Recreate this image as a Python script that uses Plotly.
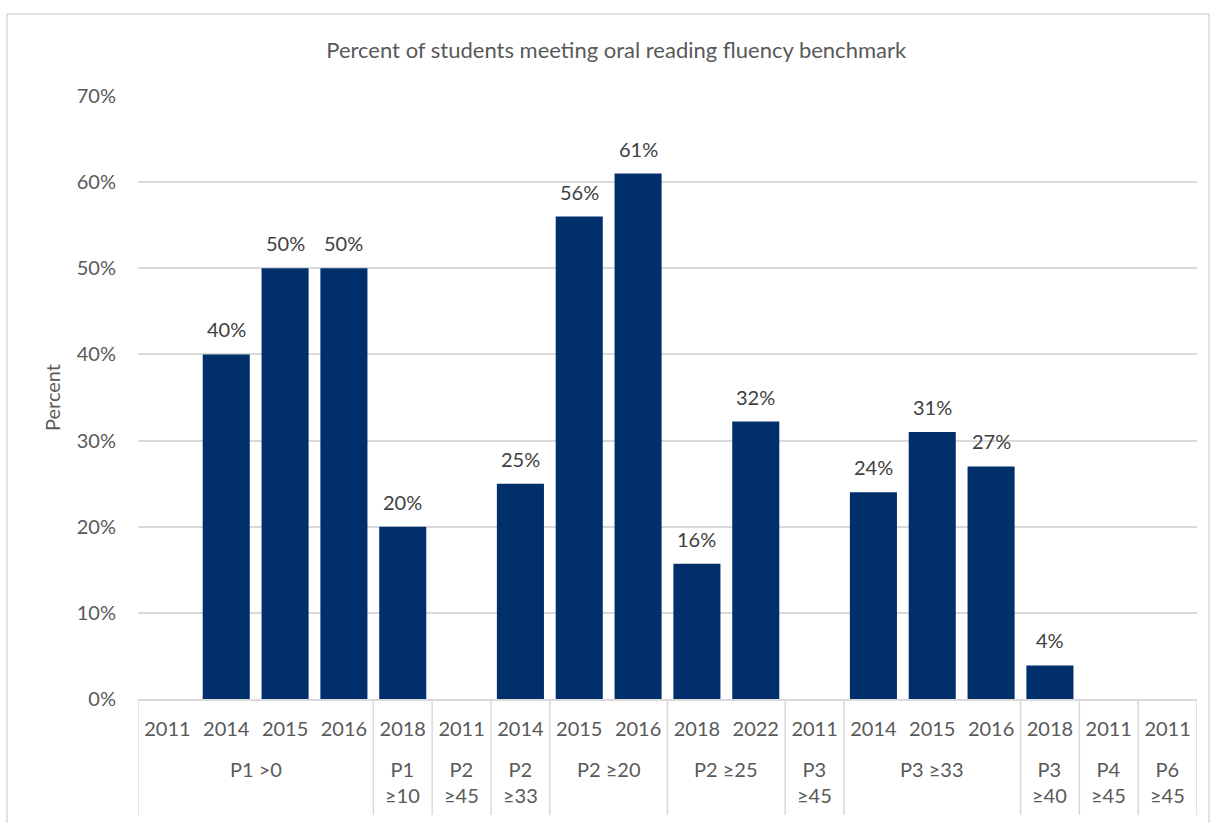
import plotly.graph_objects as go

# Benchmark groups (grade and words-per-minute threshold) and survey years
groups = ["P1 >0", "P1 >0", "P1 >0", "P1 >0",
          "P1<br>≥10", "P2<br>≥45", "P2<br>≥33",
          "P2 ≥20", "P2 ≥20", "P2 ≥25", "P2 ≥25",
          "P3<br>≥45", "P3 ≥33", "P3 ≥33", "P3 ≥33",
          "P3<br>≥40", "P4<br>≥45", "P6<br>≥45"]
years = ["2011", "2014", "2015", "2016",
         "2018", "2011", "2014",
         "2015", "2016", "2018", "2022",
         "2011", "2014", "2015", "2016",
         "2018", "2011", "2011"]
# Percent of students meeting the benchmark (None = no data)
percent = [None, 40, 50, 50,
           20, None, 25,
           56, 61, 15.7, 32.2,
           None, 24, 31, 27,
           3.9, None, None]

TEXT = "#595959"
LABEL = "#404040"
GRID = "#d9d9d9"
BAR = "#002F6C"
FONT = "Lato, 'Open Sans', sans-serif"

W, H = 1213, 823
L, R, T, B = 138, 16, 96, 124
plot_h = H - T - B

pos = list(range(len(years)))

fig = go.Figure(go.Bar(
    x=pos,
    y=percent,
    marker=dict(color=BAR, line=dict(width=0)),
    hoverinfo="skip",
))

# value labels above each bar
annotations = []
for i, v in zip(pos, percent):
    if v is None:
        continue
    annotations.append(dict(
        x=i, y=v, xref="x", yref="y", text=f"{v:.0f}%",
        showarrow=False, yanchor="bottom", yshift=11,
        font=dict(size=20, color=LABEL, family=FONT),
    ))

# group (grade / threshold) runs along the category axis
runs = []
for i, g in enumerate(groups):
    if runs and runs[-1][0] == g:
        runs[-1][2] = i
    else:
        runs.append([g, i, i])


def px_to_paper_y(py):
    return (H - B - py) / plot_h


shapes = []
div_bottom = px_to_paper_y(815)
for g, a, b in runs:
    annotations.append(dict(
        x=(a + b) / 2, y=px_to_paper_y(755), xref="x", yref="paper",
        text=g, showarrow=False, yanchor="top", xanchor="center",
        font=dict(size=20, color=TEXT, family=FONT),
    ))
    shapes.append(dict(type="line", xref="x", yref="paper",
                       x0=a - 0.5, x1=a - 0.5, y0=0, y1=div_bottom,
                       line=dict(color=GRID, width=1.5)))
shapes.append(dict(type="line", xref="x", yref="paper",
                   x0=len(years) - 0.5, x1=len(years) - 0.5, y0=0, y1=div_bottom,
                   line=dict(color=GRID, width=1.5)))

# outer chart border
shapes.append(dict(type="rect", xref="paper", yref="paper",
                   x0=(7 - L) / (W - L - R), x1=(1209 - L) / (W - L - R),
                   y0=px_to_paper_y(860), y1=px_to_paper_y(14),
                   line=dict(color=GRID, width=1.5), layer="below"))

fig.update_layout(
    width=W, height=H,
    margin=dict(l=L, r=R, t=T, b=B),
    paper_bgcolor="white", plot_bgcolor="white",
    font=dict(family=FONT, color=TEXT, size=20),
    bargap=0.2,
    showlegend=False,
    title=dict(text="Percent of students meeting oral reading fluency benchmark",
               x=0.508, xanchor="center", y=1 - 50 / H, yanchor="middle",
               font=dict(size=22, color=TEXT, family=FONT)),
    annotations=annotations,
    shapes=shapes,
)

fig.update_yaxes(
    range=[0, 70], dtick=10, ticksuffix="%",
    showgrid=True, gridcolor=GRID, gridwidth=1.5,
    zeroline=False, showline=False, ticks="",
    tickfont=dict(size=20, color=TEXT), ticklabelstandoff=21,
    title=dict(text="Percent", font=dict(size=20, color=TEXT), standoff=10),
)

fig.update_xaxes(
    range=[-0.5, len(years) - 0.5],
    tickmode="array", tickvals=pos, ticktext=years,
    showline=True, linecolor=GRID, linewidth=1.5,
    showgrid=False, zeroline=False,
    ticks="", tickfont=dict(size=20, color=TEXT), ticklabelstandoff=11,
)

fig.write_html("out.html")
